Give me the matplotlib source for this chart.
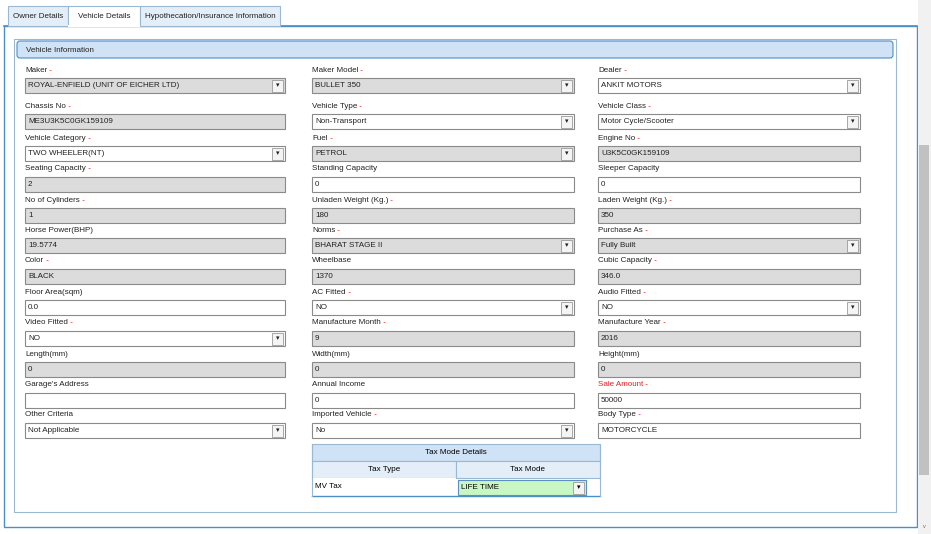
import matplotlib
matplotlib.use("Agg")
import matplotlib.pyplot as plt
from matplotlib.patches import Rectangle, FancyBboxPatch
plt.rcParams["font.family"] = "Liberation Sans"

tabs = ["Owner Details", "Vehicle Details", "Hypothecation/Insurance Information"]
col1_labels = ["Maker", "Chassis No", "Vehicle Category", "Seating Capacity", "No of Cylinders", "Horse Power(BHP)",
               "Color", "Floor Area(sqm)", "Video Fitted", "Length(mm)", "Garage's Address", "Other Criteria"]
col1_values = ["ROYAL-ENFIELD (UNIT OF EICHER LTD)", "ME3U3K5C0GK159109", "TWO WHEELER(NT)", "2", "1", "19.5774",
               "BLACK", "0.0", "NO", "0", "", "Not Applicable"]
col1_kinds = ["gd", "g", "wd", "g", "g", "g", "g", "w", "wd", "g", "w", "wd"]
col1_req = [1, 1, 1, 1, 1, 0, 1, 0, 1, 0, 0, 0]
col2_labels = ["Maker Model", "Vehicle Type", "Fuel", "Standing Capacity", "Unladen Weight (Kg.)", "Norms",
               "Wheelbase", "AC Fitted", "Manufacture Month", "Width(mm)", "Annual Income", "Imported Vehicle"]
col2_values = ["BULLET 350", "Non-Transport", "PETROL", "0", "180", "BHARAT STAGE II",
               "1370", "NO", "9", "0", "0", "No"]
col2_kinds = ["gd", "wd", "gd", "w", "g", "gd", "g", "wd", "g", "g", "w", "wd"]
col2_req = [1, 1, 1, 0, 1, 1, 0, 1, 1, 0, 0, 1]
col3_labels = ["Dealer", "Vehicle Class", "Engine No", "Sleeper Capacity", "Laden Weight (Kg.)", "Purchase As",
               "Cubic Capacity", "Audio Fitted", "Manufacture Year", "Height(mm)", "Sale Amount", "Body Type"]
col3_values = ["ANKIT MOTORS", "Motor Cycle/Scooter", "U3K5C0GK159109", "0", "350", "Fully Built",
               "346.0", "NO", "2016", "0", "50000", "MOTORCYCLE"]
col3_kinds = ["wd", "wd", "g", "w", "g", "gd", "g", "wd", "g", "g", "w", "w"]
col3_req = [1, 1, 1, 0, 1, 1, 1, 1, 1, 0, 1, 1]
tax_headers = ["Tax Type", "Tax Mode"]
tax_row = ["MV Tax", "LIFE TIME"]

W, H = 931, 534
fig = plt.figure(figsize=(W / 100, H / 100), dpi=100)
ax = fig.add_axes([0, 0, 1, 1])
ax.set_xlim(0, W); ax.set_ylim(H, 0); ax.axis("off")
FS = 5.8
BLUE = "#4a8fc7"; LBLUE = "#cfe2f6"; GRAY = "#dcdcdc"

def rect(x, y, w, h, fc="white", ec="#888888", lw=0.8, z=1):
    ax.add_patch(Rectangle((x, y), w, h, facecolor=fc, edgecolor=ec, lw=lw, zorder=z))

rect(4, 26, 913, 501, ec=BLUE, lw=1)
ax.plot([4, 917], [26, 26], color=BLUE, lw=1.2, zorder=3)
tx = [8, 68, 140, 280]
for i, t in enumerate(tabs):
    active = i == 1
    rect(tx[i], 6, tx[i + 1] - tx[i], 20, fc="white" if active else "#e4eef8", ec="#9bb8d3", z=4)
    ax.text((tx[i] + tx[i + 1]) / 2, 16, t, fontsize=FS, ha="center", va="center", color="#222", zorder=5)
ax.plot([69, 139], [26, 26], color="white", lw=1.5, zorder=5)
rect(918, 0, 13, H, fc="#f1f1f1", ec="none", z=2)
rect(919, 145, 10, 330, fc="#c1c1c1", ec="none", z=3)
ax.text(924.5, 527, "v", fontsize=4, ha="center", va="center", color="#666")
rect(14, 39, 882, 473, ec="#9bb8d3")
ax.add_patch(FancyBboxPatch((17, 41), 876, 17, boxstyle="round,pad=0,rounding_size=3",
                            facecolor=LBLUE, edgecolor=BLUE, lw=0.8, zorder=2))
ax.text(26, 50, "Vehicle Information", fontsize=FS, va="center", color="#222", zorder=3)

def field(x, w, y, label, value, kind, req, lab_color="#222"):
    t = ax.text(x, y, label, fontsize=FS, va="center", color=lab_color, zorder=3)
    if req:
        ax.annotate(" -", xycoords=t, xy=(1, 0.5), va="center", fontsize=FS, color="red", zorder=3)
    by = y + 8
    fc = GRAY if kind.startswith("g") else "white"
    rect(x, by, w, 15, fc=fc, ec="#8a8a8a", z=2)
    ax.text(x + 3, by + 7.5, value, fontsize=FS, va="center", color="#222", zorder=3)
    if kind.endswith("d"):
        rect(x + w - 13, by + 1.5, 11, 12, fc="#f4f4f4", ec="#9a9a9a", lw=0.6, z=3)
        ax.text(x + w - 7.5, by + 7.5, "▾", fontsize=5, ha="center", va="center", color="#222",
                family="DejaVu Sans", zorder=4)

row_y = [70, 106, 138, 169, 200, 230, 261, 292, 323, 354, 385, 415]
cols = [(25, 260, col1_labels, col1_values, col1_kinds, col1_req),
        (312, 262, col2_labels, col2_values, col2_kinds, col2_req),
        (598, 262, col3_labels, col3_values, col3_kinds, col3_req)]
for x, w, labs, vals, kinds, reqs in cols:
    for y, l, v, k, r in zip(row_y, labs, vals, kinds, reqs):
        field(x, w, y, l, v, k, r, lab_color="#e02020" if l == "Sale Amount" else "#222")

rect(312, 444, 288, 17, fc=LBLUE, ec="#9bb8d3", z=2)
ax.text(456, 452.5, "Tax Mode Details", fontsize=FS, ha="center", va="center", zorder=3)
rect(312, 461, 144, 17, fc="#e4eef8", ec="#9bb8d3", z=2)
rect(456, 461, 144, 17, fc="#e4eef8", ec="#9bb8d3", z=2)
ax.text(384, 469.5, tax_headers[0], fontsize=FS, ha="center", va="center", zorder=3)
ax.text(528, 469.5, tax_headers[1], fontsize=FS, ha="center", va="center", zorder=3)
rect(312, 478, 144, 18, ec="none", z=2)
ax.plot([312, 600], [496, 496], color=BLUE, lw=1, zorder=3)
ax.plot([312, 312], [444, 496], color="#9bb8d3", lw=0.8, zorder=3)
ax.plot([600, 600], [444, 496], color="#9bb8d3", lw=0.8, zorder=3)
ax.text(315, 487, tax_row[0], fontsize=FS, va="center", zorder=3)
rect(458, 480, 128, 15, fc="#c9f7c4", ec="#5a8fbf", z=3)
ax.text(461, 487.5, tax_row[1], fontsize=FS, va="center", zorder=4)
rect(573, 481.5, 11, 12, fc="#f4f4f4", ec="#9a9a9a", lw=0.6, z=4)
ax.text(578.5, 487.5, "▾", fontsize=5, ha="center", va="center", family="DejaVu Sans", zorder=5)

fig.savefig("out.png", dpi=100)
